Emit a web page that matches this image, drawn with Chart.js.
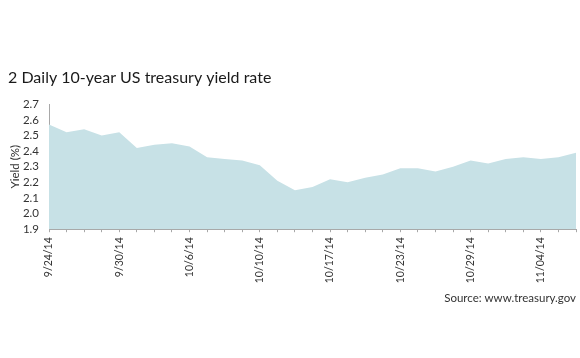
<!DOCTYPE html>
<html>
<head>
<meta charset="utf-8">
<script src="https://cdn.jsdelivr.net/npm/chart.js@4.4.1/dist/chart.umd.min.js"></script>
<style>
  html, body { margin: 0; padding: 0; background: #ffffff; }
  #wrap { width: 580px; height: 358px; }
</style>
</head>
<body>
<div id="wrap"><canvas id="yieldChart" width="580" height="358"></canvas></div>
<script>
// trading days, 9/24/14 - 11/6/14 (bond market closed 10/13)
const dates = [
    '9/24/14', '9/25/14', '9/26/14', '9/29/14', '9/30/14',
    '10/1/14', '10/2/14', '10/3/14', '10/6/14', '10/7/14',
    '10/8/14', '10/9/14', '10/10/14', '10/14/14', '10/15/14',
    '10/16/14', '10/17/14', '10/20/14', '10/21/14', '10/22/14',
    '10/23/14', '10/24/14', '10/27/14', '10/28/14', '10/29/14',
    '10/30/14', '10/31/14', '11/03/14', '11/04/14', '11/05/14',
    '11/06/14'
];

const yieldRate = [
    2.57, 2.52, 2.54, 2.50, 2.52,
    2.42, 2.44, 2.45, 2.43, 2.36,
    2.35, 2.34, 2.31, 2.21, 2.15,
    2.17, 2.22, 2.20, 2.23, 2.25,
    2.29, 2.29, 2.27, 2.30, 2.34,
    2.32, 2.35, 2.36, 2.35, 2.36,
    2.39
];

const yTicks = [1.9, 2.0, 2.1, 2.2, 2.3, 2.4, 2.5, 2.6, 2.7];
const labelEvery = 4;

const fontFamily = 'Lato, "Open Sans", sans-serif';
const textColor = '#333333';
const axisColor = '#a8a8a8';

new Chart(document.getElementById('yieldChart').getContext('2d'), {
    type: 'line',
    data: {
        labels: dates,
        datasets: [
            {
                label: 'Yield',
                data: yieldRate,
                fill: 'start',
                backgroundColor: '#c7e1e6',
                borderWidth: 0,
                borderColor: 'rgba(0,0,0,0)',
                pointRadius: 0,
                tension: 0
            }
        ]
    },
    options: {
        responsive: false,
        animation: false,
        layout: {
            padding: { left: 8, right: 4, top: 0, bottom: 0 }
        },
        plugins: {
            legend: { display: false },
            tooltip: { enabled: false },
            title: {
                display: true,
                text: '2 Daily 10-year US treasury yield rate',
                align: 'start',
                color: '#1a1a1a',
                font: { family: fontFamily, size: 16, weight: 'normal', lineHeight: 1.2 },
                padding: { top: 68, bottom: 17 }
            },
            subtitle: {
                display: true,
                position: 'bottom',
                text: 'Source: www.treasury.gov',
                align: 'end',
                color: textColor,
                font: { family: fontFamily, size: 11.5, lineHeight: 1.2 },
                padding: { top: 2, bottom: 53 }
            }
        },
        scales: {
            x: {
                offset: false,
                grid: {
                    display: true,
                    drawOnChartArea: false,
                    drawTicks: true,
                    tickLength: 3,
                    color: axisColor
                },
                border: { display: true, color: axisColor, width: 1 },
                ticks: {
                    autoSkip: false,
                    minRotation: 90,
                    maxRotation: 90,
                    padding: 5,
                    color: textColor,
                    font: { family: fontFamily, size: 10.5 },
                    callback: function (value, index) {
                        return index % labelEvery === 0 ? dates[index] : '';
                    }
                },
                afterFit: function (scale) {
                    scale.height = 60;
                    scale.paddingRight = 0;
                    scale.paddingLeft = 0;
                }
            },
            y: {
                min: 1.9,
                max: 2.7,
                afterBuildTicks: function (scale) {
                    scale.ticks = yTicks.map(function (v) { return { value: v }; });
                },
                grid: {
                    display: true,
                    drawOnChartArea: false,
                    drawTicks: false,
                    color: axisColor
                },
                border: { display: true, color: axisColor, width: 1 },
                ticks: {
                    autoSkip: false,
                    padding: 10,
                    color: textColor,
                    font: { family: fontFamily, size: 11.5 },
                    callback: function (value) {
                        return Number(value).toFixed(1);
                    }
                },
                title: {
                    display: true,
                    text: 'Yield (%)',
                    color: textColor,
                    font: { family: fontFamily, size: 11.5 },
                    padding: { top: 0, bottom: 0 }
                },
                afterFit: function (scale) {
                    scale.width = 41;
                }
            }
        }
    }
});
</script>
</body>
</html>
